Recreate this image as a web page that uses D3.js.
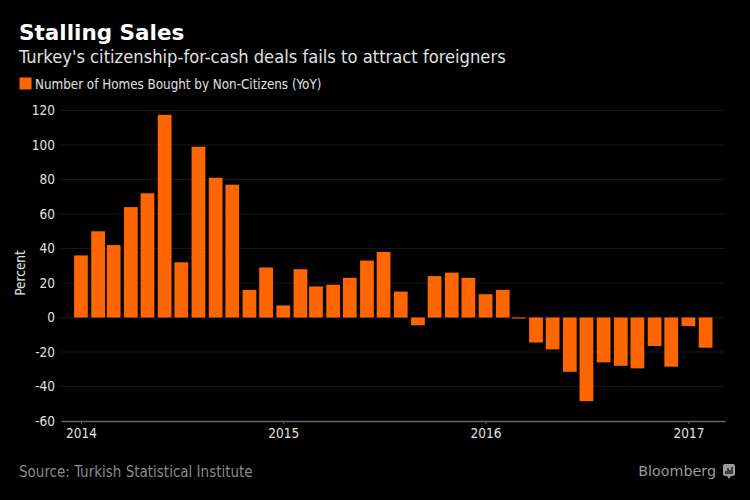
<!DOCTYPE html>
<html>
<head>
<meta charset="utf-8">
<script src="https://cdn.jsdelivr.net/npm/d3@7/dist/d3.min.js"></script>
<style>
  html, body { margin: 0; padding: 0; background: #000; }
  svg { display: block; }
</style>
</head>
<body>
<div id="chart"></div>
<script>
// Chart data: monthly YoY change, Jan 2014 - Feb 2017
const months = [
  "2014-01", "2014-02", "2014-03", "2014-04", "2014-05", "2014-06",
  "2014-07", "2014-08", "2014-09", "2014-10", "2014-11", "2014-12",
  "2015-01", "2015-02", "2015-03", "2015-04", "2015-05", "2015-06",
  "2015-07", "2015-08", "2015-09", "2015-10", "2015-11", "2015-12",
  "2016-01", "2016-02", "2016-03", "2016-04", "2016-05", "2016-06",
  "2016-07", "2016-08", "2016-09", "2016-10", "2016-11", "2016-12",
  "2017-01", "2017-02"
];
const homesYoY = [
  36, 50, 42, 64, 72, 117.5,
  32, 99, 81, 77, 16, 29,
  7, 28, 18, 19, 23, 33,
  38, 15, -4.5, 24, 26, 23,
  13.5, 16, -0.6, -14.5, -18.5, -31.5,
  -48.5, -26, -28, -29.5, -16.5, -28.5,
  -5, -17.5
];
const yTicks = [120, 100, 80, 60, 40, 20, 0, -20, -40, -60];
const xTickYears = ["2014", "2015", "2016", "2017"];

const seriesName = "Number of Homes Bought by Non-Citizens (YoY)";
const title = "Stalling Sales";
const subtitle = "Turkey's citizenship-for-cash deals fails to attract foreigners";
const source = "Source: Turkish Statistical Institute";

const width = 750;
const height = 500;
const orange = "#ff6600";
const font = "'DejaVu Sans Condensed', 'DejaVu Sans', sans-serif";

const parseMonth = d3.timeParse("%Y-%m");
const data = months.map((m, i) => ({ date: parseMonth(m), value: homesYoY[i] }));

const x = d3.scaleTime()
    .domain([new Date(2013, 10, 26), new Date(2017, 2, 8)])
    .range([61, 725]);

const y = d3.scaleLinear()
    .domain([-60, 120])
    .range([421, 110.5]);

const svg = d3.select("#chart").append("svg")
    .attr("width", width)
    .attr("height", height)
    .style("font-family", font);

svg.append("rect")
    .attr("width", width)
    .attr("height", height)
    .attr("fill", "#000");

// Titles
svg.append("text")
    .attr("x", 19)
    .attr("y", 40)
    .attr("fill", "#fff")
    .attr("font-size", 21.5)
    .attr("font-weight", "bold")
    .attr("font-family", "'DejaVu Sans', sans-serif")
    .text(title);

svg.append("text")
    .attr("x", 19)
    .attr("y", 63)
    .attr("fill", "#e0e0e0")
    .attr("font-size", 18.2)
    .text(subtitle);

// Legend
svg.append("rect")
    .attr("x", 19.5)
    .attr("y", 77.5)
    .attr("width", 12)
    .attr("height", 12)
    .attr("fill", orange);

svg.append("text")
    .attr("x", 35)
    .attr("y", 89)
    .attr("fill", "#e0e0e0")
    .attr("font-size", 13.3)
    .text(seriesName);

// Gridlines
svg.append("g")
    .selectAll("line")
    .data(yTicks.filter(d => d !== -60))
    .join("line")
    .attr("x1", 61)
    .attr("x2", 725)
    .attr("y1", d => y(d))
    .attr("y2", d => y(d))
    .attr("stroke", "#171717")
    .attr("stroke-width", 1);

// Y axis labels
const yAxis = d3.axisLeft(y)
    .tickValues(yTicks)
    .tickFormat(d => String(d))
    .tickSize(0)
    .tickPadding(6);
svg.append("g")
    .attr("transform", "translate(61,0)")
    .call(yAxis)
    .call(g => g.select(".domain").remove())
    .call(g => g.selectAll("text")
        .attr("fill", "#e0e0e0")
        .attr("font-size", 13.5)
        .attr("font-family", font));

svg.append("text")
    .attr("transform", "translate(25,273) rotate(-90)")
    .attr("text-anchor", "middle")
    .attr("fill", "#e0e0e0")
    .attr("font-size", 13.5)
    .text("Percent");

// Bars
const barW = (x(parseMonth("2014-02")) - x(parseMonth("2014-01"))) * 0.8;
svg.append("g")
    .selectAll("rect")
    .data(data)
    .join("rect")
    .attr("x", d => x(d.date) - barW / 2)
    .attr("width", barW)
    .attr("y", d => y(Math.max(0, d.value)))
    .attr("height", d => Math.abs(y(d.value) - y(0)))
    .attr("fill", orange);

// X axis
const xAxis = d3.axisBottom(x)
    .tickValues(xTickYears.map(d => d3.timeParse("%Y")(d)))
    .tickFormat(d3.timeFormat("%Y"))
    .tickSize(3)
    .tickPadding(4)
    .tickSizeOuter(0);
svg.append("g")
    .attr("transform", `translate(0,${y(-60)})`)
    .call(xAxis)
    .call(g => g.select(".domain").attr("stroke", "#666").attr("stroke-width", 1.5))
    .call(g => g.selectAll(".tick line").attr("stroke", "#666"))
    .call(g => g.selectAll("text")
        .attr("fill", "#e0e0e0")
        .attr("font-size", 13.5)
        .attr("font-family", font));

// Footer
svg.append("text")
    .attr("x", 19)
    .attr("y", 477)
    .attr("fill", "#8a8a8a")
    .attr("font-size", 15)
    .text(source);

svg.append("text")
    .attr("x", 716)
    .attr("y", 476)
    .attr("text-anchor", "end")
    .attr("fill", "#9a9a9a")
    .attr("font-size", 14.3)
    .attr("font-family", "'DejaVu Sans', sans-serif")
    .text("Bloomberg");

// small Bloomberg chart icon
const icon = svg.append("g").attr("transform", "translate(723,464)");
icon.append("rect")
    .attr("width", 12)
    .attr("height", 12)
    .attr("rx", 2)
    .attr("fill", "#9a9a9a");
icon.append("path")
    .attr("d", "M4,12 L6,15 L8,12 Z")
    .attr("fill", "#9a9a9a");
icon.selectAll("line.bar")
    .data([[3, 7], [5, 4], [7, 6], [9, 3]])
    .join("line")
    .attr("x1", d => d[0])
    .attr("x2", d => d[0])
    .attr("y1", 10)
    .attr("y2", d => d[1])
    .attr("stroke", "#000")
    .attr("stroke-width", 1.2);
</script>
</body>
</html>
